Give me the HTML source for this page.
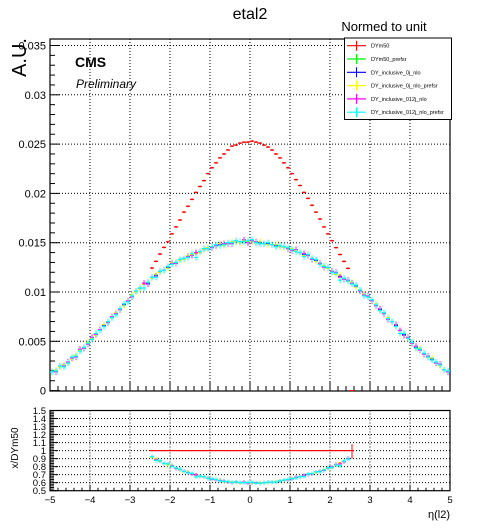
<!DOCTYPE html>
<html><head><meta charset="utf-8"><style>
html,body{margin:0;padding:0;background:#fff;}
svg{display:block;font-family:"Liberation Sans",sans-serif;}
</style></head><body>
<svg id="c" width="500" height="532" viewBox="0 0 500 532" xmlns="http://www.w3.org/2000/svg"></svg>
<script>
// ---- data ----
const etaMin = -5, etaMax = 5, binW = 0.1;
// DYm50 (red), bins from -2.5 to 2.6
const redValues = [0.01243,0.01311,0.01385,0.01453,0.0151,0.0159,0.0166,0.0173,0.0181,0.0187,0.0194,0.0201,0.0207,0.0213,0.0220,0.0226,0.0231,0.0236,0.0240,0.0244,0.0248,0.0249,0.0251,0.0252,0.0252,
0.0253,0.0252,0.0251,0.0249,0.0247,0.0244,0.0240,0.0236,0.0231,0.0226,0.0220,0.0214,0.0208,0.0201,0.0195,0.0188,0.0181,0.0174,0.0166,0.0159,0.0152,0.0145,0.0138,0.0131,0.0124,0];
const redStart = -2.5;
// DY_inclusive_0j_nlo (blue), bins -5..5
const blueValues = [0.0019,0.0020,0.0024,0.0025,0.0028,0.0033,0.0035,0.0041,0.0043,0.0048,
0.0053,0.0057,0.0061,0.0066,0.0069,0.0074,0.0078,0.0083,0.0087,0.0091,
0.0096,0.0100,0.0104,0.0108,0.0109,0.0115,0.0117,0.0120,0.0122,0.0125,
0.0129,0.0130,0.0132,0.0134,0.0136,0.0138,0.0139,0.0141,0.0143,0.0144,
0.0146,0.0147,0.0148,0.0148,0.0149,0.0150,0.0151,0.0151,0.0152,0.0151,
0.0152,0.0150,0.0150,0.0149,0.0149,0.0148,0.0147,0.0146,0.0146,0.0144,
0.0143,0.0142,0.0140,0.0138,0.0137,0.0134,0.0132,0.0129,0.0126,0.0124,
0.0121,0.0119,0.0116,0.0113,0.0111,0.0109,0.0106,0.0102,0.0097,0.0095,
0.0091,0.0087,0.0082,0.0078,0.0073,0.0070,0.0066,0.0061,0.0057,0.0053,
0.0048,0.0044,0.0042,0.0037,0.0034,0.0032,0.0028,0.0026,0.0021,0.0019];
// per-series deviations from blue, in units of 1e-4
const yellowDelta = [0,1,0,1,0,-1,1,0,0,1,0,-1,0,1,0,0,1,0,-1,0,1,0,-1,0,1,-1,1,0,0,-1,1,0,0,-1,1,0,0,-1,0,1,0,0,1,-1,0,1,0,-1,0,0,-1,0,1,0,-1,0,1,0,-1,0,1,0,0,-1,1,0,-1,0,1,0,0,-1,1,0,0,1,-1,0,1,0,0,1,-1,0,1,0,-1,0,1,0,0,-1,1,0,0,1,0,-1,0,1];
const magentaDelta = [0,-1,1,0,1,0,-1,1,0,-1,1,0,1,-1,0,1,0,-1,1,0,-1,1,0,1,-1,0,-1,1,0,1,0,-1,1,0,0,-1,1,0,1,0,-1,0,0,1,0,-1,1,0,1,-1,0,1,-1,0,1,0,-1,1,0,0,-1,1,0,1,0,-1,1,0,-1,1,0,1,-1,0,1,0,1,-1,0,1,0,-1,1,0,-1,0,1,0,-1,1,0,1,-1,0,1,-1,0,1,0,0];
const cyanDelta = [0,0,1,-1,0,1,0,-1,1,0,-1,1,0,-1,1,0,-1,0,1,-1,0,1,0,-4,1,0,-2,1,0,1,-1,0,1,0,-1,1,-4,0,1,0,0,1,-1,0,1,0,1,0,-1,1,1,0,-1,0,1,0,-1,1,0,1,0,-1,0,-2,1,0,1,-1,0,1,-1,0,-4,1,0,-1,1,0,-1,0,1,0,-1,1,0,0,-1,-3,1,0,1,-1,0,1,0,-1,1,0,0,1];
const yTicksTop = ["0","0.005","0.01","0.015","0.02","0.025","0.03","0.035"];
const yTicksRatio = ["0.5","0.6","0.7","0.8","0.9","1","1.1","1.2","1.3","1.4","1.5"];
const xTicks = ["−5","−4","−3","−2","−1","0","1","2","3","4","5"];
const legendLabels = ["DYm50","DYm50_prefsr","DY_inclusive_0j_nlo","DY_inclusive_0j_nlo_prefsr","DY_inclusive_012j_nlo","DY_inclusive_012j_nlo_prefsr"];
const legendColors = ["#ff0000","#00ff00","#0000ff","#ffff00","#ff00ff","#00ffff"];

// ---- geometry ----
const X0=50, X1=450, T0=39, T1=391, R0=410.5, R1=490.7;
const xs = v => X0 + (v - etaMin) / (etaMax - etaMin) * (X1 - X0);
const ys = v => 390.6 - v / 0.005 * 49.3;
const yr = v => R1 - (v - 0.5) * (R1 - R0);
const svgEl = document.getElementById('c');
const NS = 'http://www.w3.org/2000/svg';
function mk(tag, attrs, parent) {
  const e = document.createElementNS(NS, tag);
  for (const k in attrs) e.setAttribute(k, attrs[k]);
  (parent || svgEl).appendChild(e);
  return e;
}
function line(x1,y1,x2,y2,stroke,w,dash,parent){
  const l = mk('line',{x1:x1,y1:y1,x2:x2,y2:y2,stroke:stroke,'stroke-width':w||1},parent);
  if(dash) l.setAttribute('stroke-dasharray',dash);
  return l;
}
function text(x,y,s,size,anchor,extra,parent){
  const t = mk('text',{x:x,y:y,'font-size':size,'text-anchor':anchor||'start',fill:'#000'},parent);
  if(extra) for(const k in extra) t.setAttribute(k,extra[k]);
  t.textContent = s;
  return t;
}
const seriesList = [
  {name:'green', color:'#00ff00', vals: redValues, start: redStart},
  {name:'blue', color:'#0000ff', vals: blueValues, start: etaMin},
  {name:'yellow', color:'#ffff00', vals: blueValues.map((v,i)=>v+yellowDelta[i]*1e-4), start: etaMin},
  {name:'magenta', color:'#ff00ff', vals: blueValues.map((v,i)=>v+magentaDelta[i]*1e-4), start: etaMin},
  {name:'cyan', color:'#00ffff', vals: blueValues.map((v,i)=>v+cyanDelta[i]*1e-4), start: etaMin}
];

const titleEl = text(250,19,"etal2",16,'middle');


const nt = text(384,31,"Normed to unit",13,'middle');



// ---- top panel ----
const topG = mk('g',{});


for(let i=1;i<xTicks.length-1;i++){
  const x = xs(etaMin+i);
  const g1 = line(x,T0,x,T1,'#000',1,'1,2',topG);
  
  const g2 = line(x,R0,x,R1,'#000',1,'1,2');
  
}
for(let i=1;i<yTicksTop.length;i++){
  const y = ys(i*0.005);
  const g = line(X0,y,X1,y,'#000',1,'1,2',topG);
  
}
for(let i=1;i<yTicksRatio.length-1;i++){
  const y = yr(0.5+i*0.1);
  const g = line(X0,y,X1,y,'#000',1,'1,2');
  
}
for(let k=0;k<=35;k++){
  const y = ys(k*0.001);
  line(X0,y,X0+(k%5===0?10:5),y,'#000',1,null,topG);
}
for(let i=0;i<yTicksTop.length;i++){
  const t = text(46,ys(i*0.005)+4,yTicksTop[i],11,'end',null,topG);
  
  
}
for(let k=0;k<=50;k++){
  const x = xs(etaMin+k*0.2);
  line(x,T1,x,T1-(k%5===0?10:5),'#000',1,null,topG);
  line(x,R1,x,R1-(k%5===0?6:3),'#000',1);
}
for(let k=0;k<=50;k++){
  const y = yr(0.5+k*0.02);
  line(X0,y,X0+(k%5===0?8:4),y,'#000',1);
}
function drawSeries(vals,start,color,ebar,nm){
  const g = mk('g',{});
  
  
  for(let i=0;i<vals.length;i++){
    const x1 = xs(start+i*binW), x2 = xs(start+(i+1)*binW), y = ys(vals[i]);
    line(x1,y,x2,y,color,1.2,null,g);
    if(vals[i]>0) line((x1+x2)/2,y-ebar,(x1+x2)/2,y+ebar,color,1,null,g);
  }
}
seriesList.slice(1).forEach(s=>drawSeries(s.vals,s.start,s.color,3,'series-'+s.name));
drawSeries(redValues,redStart,'#ff0000',1,'series-red');
const mf = mk('rect',{x:X0,y:T0,width:X1-X0,height:T1-T0,fill:'none',stroke:'#000','stroke-width':1.2},topG);

const au = text(0,0,"A.U.",20,'end',{transform:'translate(26,38) rotate(-90)'});


const cms = text(75,67,"CMS",14,'start',{'font-weight':'bold'});


const pre = text(76,88,"Preliminary",12,'start',{'font-style':'italic'});



// legend
const lg = mk('g',{});


mk('rect',{x:344.5,y:38,width:107,height:81.5,fill:'#fff',stroke:'#000','stroke-width':1},lg);
for(let i=0;i<legendLabels.length;i++){
  const y = 45.7 + i*13.3;
  const e = mk('g',{},lg);
  
  
  line(347,y,366,y,legendColors[i],1.2,null,e);
  line(356.5,y-5,356.5,y+5,legendColors[i],1,null,e);
  text(371,y+2,legendLabels[i],5.5,'start',null,e);
}

// ---- ratio panel ----
const rp = mk('g',{});


for(let i=0;i<yTicksRatio.length;i++){
  const t = text(46,yr(0.5+i*0.1)+3.5,yTicksRatio[i],9.5,'end',null,rp);
  
  
}
for(let i=0;i<xTicks.length;i++){
  const t = text(xs(etaMin+i),503,xTicks[i],9.5,'middle',null,rp);
  
  
}
const ryl = text(0,0,"x/DYm50",10,'middle',{transform:'translate(18,448) rotate(-90)'},rp);


const xl = text(450,518,"η(l2)",11,'end',null,rp);


seriesList.slice(1).forEach(s=>{
  const g = mk('g',{},rp);
  
  
  for(let i=0;i<redValues.length-1;i++){
    const eta = redStart+i*binW;
    const j = Math.round((eta-etaMin)/binW);
    const r = s.vals[j]/redValues[i];
    const x1=xs(eta),x2=xs(eta+binW),y=yr(r);
    line(x1,y,x2,y,s.color,1.2,null,g);
    line((x1+x2)/2,y-2,(x1+x2)/2,y+2,s.color,1,null,g);
  }
});
const rr = mk('g',{},rp);


for(let i=0;i<redValues.length;i++){
  const x1=xs(redStart+i*binW),x2=xs(redStart+(i+1)*binW);
  line(x1,yr(1),x2,yr(1),'#ff0000',1.2,null,rr);
  if(redValues[i]<=0) line((x1+x2)/2,yr(0.9),(x1+x2)/2,yr(1.08),'#ff0000',1,null,rr);
}
const rf = mk('rect',{x:X0,y:R0,width:X1-X0,height:R1-R0,fill:'none',stroke:'#000','stroke-width':1.2},rp);

</script>
</body></html>
